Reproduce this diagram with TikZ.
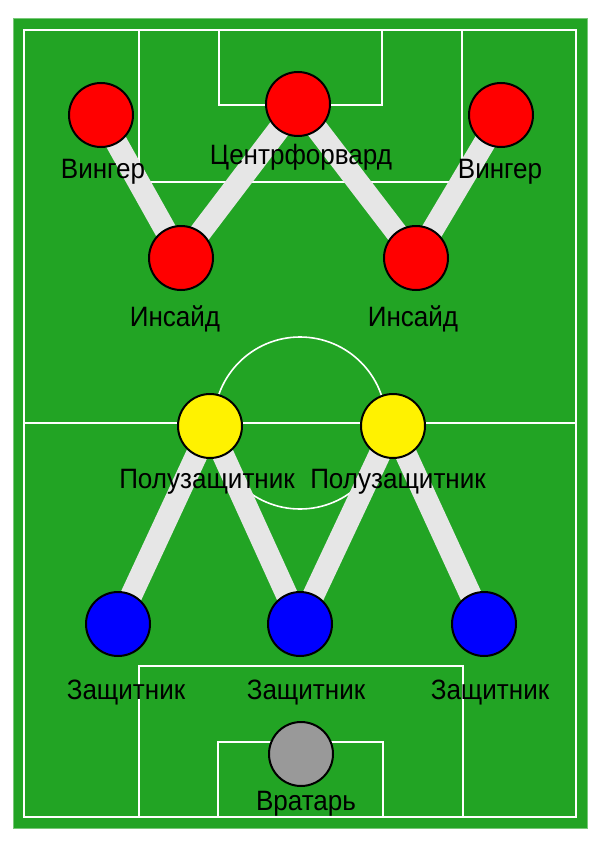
\documentclass[tikz,border=0pt]{standalone}
\usepackage{fontspec}
\setmainfont{Liberation Sans}[FakeStretch=0.93]
\definecolor{pitch}{RGB}{34,164,36}
\definecolor{pitchedge}{RGB}{120,200,120}
\definecolor{bandgray}{RGB}{230,230,230}
\definecolor{keeper}{RGB}{153,153,153}
\begin{document}
\begin{tikzpicture}[x=1pt,y=-1pt,
  fieldline/.style={draw=white,line width=1.6pt},
  band/.style={draw=bandgray,line width=22pt,line cap=butt},
  player/.style={circle,draw=black,line width=2pt,minimum size=64pt,inner sep=0pt},
  lbl/.style={font=\fontsize{28}{28}\selectfont,text=black,inner sep=0pt,anchor=base}]
\useasboundingbox (0,0) rectangle (600,848);
% field
\fill[white] (0,0) rectangle (600,848);
\fill[pitch,draw=pitchedge,line width=1pt] (13,19) rectangle (587,828);
\draw[fieldline] (24,30) rectangle (576,817);
\draw[fieldline] (24,423) -- (576,423);
\draw[fieldline] (300,423) circle[radius=86];
\draw[fieldline] (139,30) -- (139,182) -- (462,182) -- (462,30);
\draw[fieldline] (219,30) -- (219,105) -- (382,105) -- (382,30);
\draw[fieldline] (139,817) -- (139,666) -- (463,666) -- (463,817);
\draw[fieldline] (218,817) -- (218,742) -- (383,742) -- (383,817);
% players
\coordinate (plw) at (101,115);
\coordinate (pcf) at (298,104);
\coordinate (prw) at (501,115);
\coordinate (pli) at (181,258);
\coordinate (pri) at (416,258);
\coordinate (plm) at (210,426);
\coordinate (prm) at (393,426);
\coordinate (plb) at (118,624);
\coordinate (pcb) at (300,624);
\coordinate (prb) at (484,624);
\coordinate (pgk) at (301,754);
% bands
\draw[band] (plw) -- (pli);
\draw[band] (pli) -- (pcf);
\draw[band] (pcf) -- (pri);
\draw[band] (pri) -- (prw);
\draw[band] (plb) -- (plm);
\draw[band] (plm) -- (pcb);
\draw[band] (pcb) -- (prm);
\draw[band] (prm) -- (prb);
\node[player,fill=red] (lw) at (plw) {};
\node[player,fill=red] (cf) at (pcf) {};
\node[player,fill=red] (rw) at (prw) {};
\node[player,fill=red] (li) at (pli) {};
\node[player,fill=red] (ri) at (pri) {};
\node[player,fill=yellow] (lm) at (plm) {};
\node[player,fill=yellow] (rm) at (prm) {};
\node[player,fill=blue] (lb) at (plb) {};
\node[player,fill=blue] (cb) at (pcb) {};
\node[player,fill=blue] (rb) at (prb) {};
\node[player,fill=keeper] (gk) at (pgk) {};
% labels
\node[lbl] (tlw) at (103,178) {Вингер};
\node[lbl] (tcf) at (301,164) {Центрфорвард};
\node[lbl] (trw) at (500,178) {Вингер};
\node[lbl] (tli) at (175,326) {Инсайд};
\node[lbl] (tri) at (413,326) {Инсайд};
\node[lbl] (tlm) at (207,488) {Полузащитник};
\node[lbl] (trm) at (398,488) {Полузащитник};
\node[lbl] (tlb) at (126,699) {Защитник};
\node[lbl] (tcb) at (306,699) {Защитник};
\node[lbl] (trb) at (490,699) {Защитник};
\node[lbl] (tgk) at (306,810) {Вратарь};
\end{tikzpicture}
\end{document}
